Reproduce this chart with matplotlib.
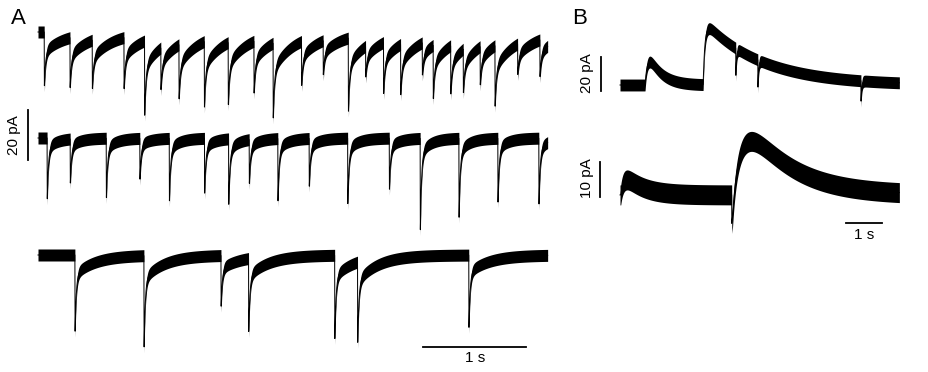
import numpy as np
import matplotlib.pyplot as plt

plt.rcParams['font.family'] = ['Liberation Sans', 'DejaVu Sans']

# ---- panel A: three 5 s sweeps, event onsets (s) and peak amplitudes (pA)
a1_times = [0.061, 0.311, 0.527, 0.835, 1.036, 1.194, 1.369, 1.615, 1.848, 2.097,
            2.284, 2.560, 2.770, 3.013, 3.182, 3.356, 3.521, 3.731, 3.838, 4.007,
            4.129, 4.294, 4.437, 4.657, 4.874]
a1_amps = [22.7, 21.1, 20.4, 21.6, 29.7, 16.7, 22.9, 27.7, 24.8, 21.9,
           29.9, 17.6, 13.6, 30.9, 12.3, 20.4, 21.3, 13.6, 21.3, 20.4,
           18.4, 15.3, 25.6, 12.9, 14.7]

a2_times = [0.090, 0.314, 0.663, 0.990, 1.275, 1.618, 1.851, 2.051, 2.330, 2.633,
            3.007, 3.411, 3.712, 4.087, 4.466, 4.864]
a2_amps = [24.3, 17.6, 25.5, 16.3, 26.8, 21.9, 28.1, 18.8, 24.9, 20.5,
           28.1, 21.9, 36.5, 33.9, 25.5, 26.3]

a3_times = [0.359, 1.029, 1.777, 2.046, 2.881, 3.104, 4.184]
a3_amps = [32.5, 38.9, 21.6, 29.2, 35.5, 32.1, 28.9]

# slow tail as a fraction of the peak, and its decay (s)
a_slow_frac = [0.35, 0.16, 0.24]
a_slow_tau = [0.20, 0.10, 0.20]
a_levels = [-12.8, -55.2, -102.0]     # resting level of each sweep (pA)
a_noise = 2.4                         # half width of the noise band (pA)
a_dur = 4.95

# ---- panel B: slow outward currents (onset s, amp pA, rise s, decay s)
b1_on = [0.69, 2.29]
b1_amp = [13.5, 33.0]
b1_rise = [0.08, 0.05]
b1_decay = [0.35, 1.6]
b1_spk_t = [3.19, 3.80, 6.64]
b1_spk_a = [17.6, 16.0, 12.0]
b1_level = -50.0

b2_on = [0.02, 3.10]
b2_amp = [4.2, 15.0]
b2_rise = [0.10, 0.35]
b2_decay = [0.5, 1.2]
b2_spk_t = [3.08]
b2_spk_a = [8.0]
b2_level = -54.6
b_dur = 7.70


def fast_events(t, times, amps, frac=0.0, tau_slow=0.2, tau_fast=0.012):
    y = np.zeros_like(t)
    for t0, a in zip(times, amps):
        s = t - t0
        m = s >= 0
        y[m] -= (1 - frac) * a * np.exp(-s[m] / tau_fast) + frac * a * np.exp(-s[m] / tau_slow)
    return y


def slow_events(t, onsets, amps, rises, decays):
    y = np.zeros_like(t)
    for t0, a, tr, td in zip(onsets, amps, rises, decays):
        s = t - t0
        m = s >= 0
        k = (1 - np.exp(-s[m] / tr)) * np.exp(-s[m] / td)
        tp = tr * np.log(1 + td / tr)
        kp = (1 - np.exp(-tp / tr)) * np.exp(-tp / td)
        y[m] += a * k / kp
    return y


def draw_trace(ax, t, y, w):
    ax.fill_between(t, y - w, y + w, color='black', lw=0)
    ax.plot(t, y, color='black', lw=0.7)


fig = plt.figure(figsize=(9.29, 3.72), dpi=100)

# panel A axes: 103 px per s, 2.5 px per pA
ax_a = fig.add_axes([0, 0, 560 / 929, 1])
ax_a.set_xlim(-38 / 103, 522 / 103)
ax_a.set_ylim(-372 / 2.5, 0)
ax_a.axis('off')

t_a = np.arange(0, a_dur, 0.002)
sweeps = [(a1_times, a1_amps), (a2_times, a2_amps), (a3_times, a3_amps)]
for i, (times, amps) in enumerate(sweeps):
    y = a_levels[i] + fast_events(t_a, times, amps, a_slow_frac[i], a_slow_tau[i])
    draw_trace(ax_a, t_a, y, a_noise)

ax_a.plot([-0.097, -0.097], [-44, -64], color='black', lw=1.3)
ax_a.text(-0.233, -54, '20 pA', rotation=90, ha='center', va='center', fontsize=11)
ax_a.plot([3.741, 4.741], [-138.8, -138.8], color='black', lw=1.3)
ax_a.text(4.241, -140.5, '1 s', ha='center', va='top', fontsize=11)

# panel B axes: 36.3 px per s
t_b = np.arange(0, b_dur, 0.004)
bx = ((560 - 620) / 36.3, (929 - 620) / 36.3)

ax_b1 = fig.add_axes([560 / 929, 0, 369 / 929, 1])
ax_b1.set_xlim(*bx)
ax_b1.set_ylim(-372 / 1.7, 0)
ax_b1.axis('off')
y1 = b1_level + slow_events(t_b, b1_on, b1_amp, b1_rise, b1_decay) \
    + fast_events(t_b, b1_spk_t, b1_spk_a, tau_fast=0.02)
draw_trace(ax_b1, t_b, y1, 3.5)
ax_b1.plot([-0.532, -0.532], [-33.4, -53.4], color='black', lw=1.3)
ax_b1.text(-0.91, -42.9, '20 pA', rotation=90, ha='center', va='center', fontsize=11)

ax_b2 = fig.add_axes([560 / 929, 0, 369 / 929, 1])
ax_b2.set_xlim(*bx)
ax_b2.set_ylim(-372 / 3.57, 0)
ax_b2.axis('off')
y2 = b2_level + slow_events(t_b, b2_on, b2_amp, b2_rise, b2_decay) \
    + fast_events(t_b, b2_spk_t, b2_spk_a, tau_fast=0.08)
draw_trace(ax_b2, t_b, y2, 2.8)
ax_b2.plot([-0.551, -0.551], [-45.3, -55.3], color='black', lw=1.3)
ax_b2.text(-0.91, -49.9, '10 pA', rotation=90, ha='center', va='center', fontsize=11)
ax_b2.plot([6.226, 7.226], [-62.5, -62.5], color='black', lw=1.3)
ax_b2.text(6.726, -63.9, '1 s', ha='center', va='top', fontsize=11)

fig.text(11 / 929, 1 - 8 / 372, 'A', ha='left', va='top', fontsize=16)
fig.text(572 / 929, 1 - 8 / 372, 'B', ha='left', va='top', fontsize=16)

fig.savefig('out.png', dpi=100)
